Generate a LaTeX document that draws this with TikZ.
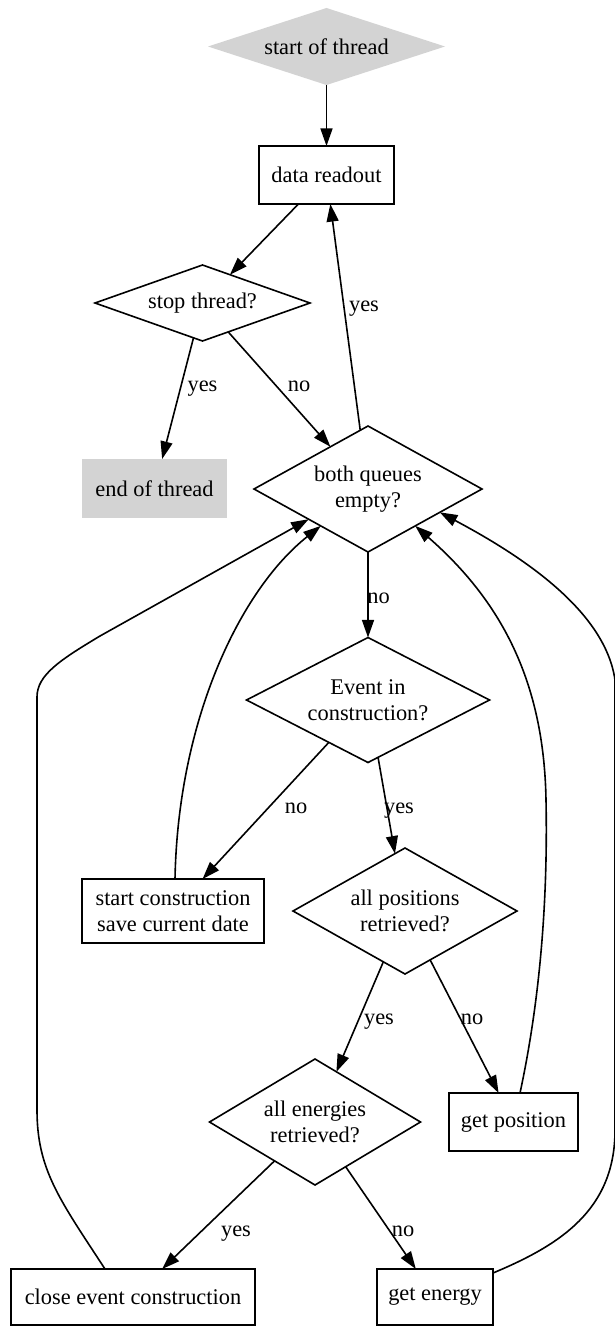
\documentclass[tikz,border=0pt]{standalone}
\usepackage{fontspec}
\setmainfont{Liberation Serif}
\usetikzlibrary{shapes.geometric,arrows.meta,calc}
\definecolor{lgrey}{HTML}{D3D3D3}
\begin{document}
\begin{tikzpicture}[x=0.5pt,y=-0.5pt,
  font=\fontsize{11.2}{12.85}\selectfont,
  every node/.style={inner sep=0pt, outer sep=0pt},
  box/.style={draw, line width=0.8pt, rectangle, align=center},
  dia/.style={draw, line width=0.8pt, diamond},
  greyfill/.style={fill=lgrey, draw=none},
  conn/.style={line width=0.8pt, -{Triangle[length=8.8pt,width=6pt]}},
  lab/.style={anchor=base},
  txt/.style={label={[align=center]center:#1}}
]
\useasboundingbox (0,0) rectangle (615,1327);

% nodes
\node[dia, greyfill, minimum width=118.5pt, minimum height=38.5pt, txt={start of thread}] (start) at (326.5,46.5) {};
\node[box, minimum width=67.5pt, minimum height=29pt] (data) at (326.5,175) {data readout};
\node[dia, minimum width=107.5pt, minimum height=38pt, txt={stop thread?}] (stop) at (202.5,303) {};
\node[box, greyfill, minimum width=72.5pt, minimum height=29.5pt] (endt) at (154.5,488.5) {end of thread};
\node[dia, minimum width=114pt, minimum height=63pt, txt={both queues\\empty?}] (bq) at (368,489) {};
\node[dia, minimum width=121.5pt, minimum height=62.5pt, txt={Event in\\construction?}] (ev) at (368,700) {};
\node[box, minimum width=91pt, minimum height=32pt] (sc) at (173,911) {start construction\\save current date};
\node[dia, minimum width=112pt, minimum height=63pt, txt={all positions\\retrieved?}] (ap) at (405,911) {};
\node[dia, minimum width=105.5pt, minimum height=63pt, txt={all energies\\retrieved?}] (ae) at (315,1122) {};
\node[box, minimum width=64.5pt, minimum height=29pt] (gp) at (513.5,1122) {get position};
\node[box, minimum width=122pt, minimum height=28pt] (ce) at (133,1297) {close event construction};
\node[box, minimum width=58pt, minimum height=28pt] (ge) at (435,1297) {get energy};

% straight connectors
\draw[conn] (start) -- (data);
\draw[conn] (data) -- (stop);
\draw[conn] (stop) -- (endt);
\draw[conn] (stop) -- (bq);
\draw[conn] (bq) -- (data);
\draw[conn] (bq) -- (ev);
\draw[conn] (ev) -- (sc);
\draw[conn] (ev) -- (ap);
\draw[conn] (ap) -- (ae);
\draw[conn] (ap) -- (gp);
\draw[conn] (ae) -- (ce);
\draw[conn] (ae) -- (ge);

% curved back connectors
\draw[conn] ([xshift=1pt]sc.north) .. controls (178,720) and (240,590) .. (bq.218);
\draw[conn] ([xshift=-14pt]ce.north) .. controls (60,1200) and (37,1170) .. (37,1110)
  -- (37,697) .. controls (37,675) and (60,660) .. (100,636) -- (bq.207.7);
\draw[conn] ([xshift=3.25pt]gp.north) .. controls (540,1000) and (548,900) .. (546,800)
  .. controls (544,680) and (500,600) .. (bq.322.5);
\draw[conn] ([yshift=-2pt]ge.north east) .. controls (560,1245) and (615,1210) .. (615,1130)
  -- (615,680) .. controls (605,610) and (520,555) .. (bq.342);

% labels
\node[lab] (l1) at (202.5,391) {yes};
\node[lab] (l2) at (299,391) {no};
\node[lab] (l3) at (364,311) {yes};
\node[lab] (l4) at (378.5,603) {no};
\node[lab] (l5) at (296,813) {no};
\node[lab] (l6) at (399,813) {yes};
\node[lab] (l7) at (379,1024) {yes};
\node[lab] (l8) at (472,1024) {no};
\node[lab] (l9) at (236,1236) {yes};
\node[lab] (l10) at (403,1236) {no};
\end{tikzpicture}
\end{document}
